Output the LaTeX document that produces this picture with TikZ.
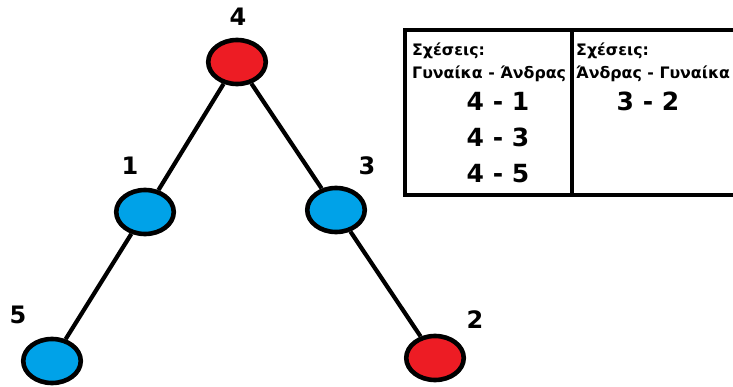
\documentclass[tikz,border=0pt]{standalone}
\usepackage{fontspec}
\setmainfont{DejaVu Sans}
\usetikzlibrary{shapes.geometric}
\definecolor{pred}{HTML}{ED1C24}
\definecolor{pblue}{HTML}{00A2E8}
\tikzset{
  vert/.style={ellipse, draw=black, line width=4.6pt, minimum width=57.5pt, minimum height=44pt, inner sep=0pt},
  lbl/.style={font=\fontsize{24}{24}\selectfont\bfseries, inner sep=0pt},
  edge/.style={line width=4.2pt},
  small/.style={font=\fontsize{15.8}{15.8}\selectfont\bfseries, inner sep=0pt, anchor=west},
  big/.style={font=\fontsize{25}{25}\selectfont\bfseries, inner sep=0pt}
}
\begin{document}
\begin{tikzpicture}[x=1pt,y=-1pt]
\useasboundingbox (0,0) rectangle (733,387);
\clip (0,0) rectangle (733,387);
\fill[white] (0,0) rectangle (733,387);
% table
\draw[line width=4.3pt] (405,30) rectangle (745,195);
\draw[line width=4.3pt] (572,30) -- (572,195);
\node[small] (t1) at (412,51) {Σχέσεις:};
\node[small] (t2) at (412,74) {Γυναίκα - Άνδρας};
\node[big] (r1) at (498,101) {4 - 1};
\node[big] (r2) at (498,137) {4 - 3};
\node[big] (r3) at (498,174) {4 - 5};
\node[small] (t3) at (576,51) {Σχέσεις:};
\node[small] (t4) at (576,74) {Άνδρας - Γυναίκα};
\node[big] (r4) at (648,101) {3 - 2};
% graph
\node[vert, fill=pred] (n4) at (237,62) {};
\node[vert, fill=pblue] (n1) at (145,212) {};
\node[vert, fill=pblue] (n3) at (336,210) {};
\node[vert, fill=pblue] (n5) at (52,361) {};
\node[vert, fill=pred] (n2) at (435,358) {};
\draw[edge] (n4) -- (n1);
\draw[edge] (n4) -- (n3);
\draw[edge] (n1) -- (n5);
\draw[edge] (n3) -- (n2);
\node[lbl] (l4) at (238,17) {4};
\node[lbl] (l1) at (130,166) {1};
\node[lbl] (l3) at (367,166) {3};
\node[lbl] (l5) at (18,315) {5};
\node[lbl] (l2) at (475,320) {2};
\end{tikzpicture}
\end{document}
